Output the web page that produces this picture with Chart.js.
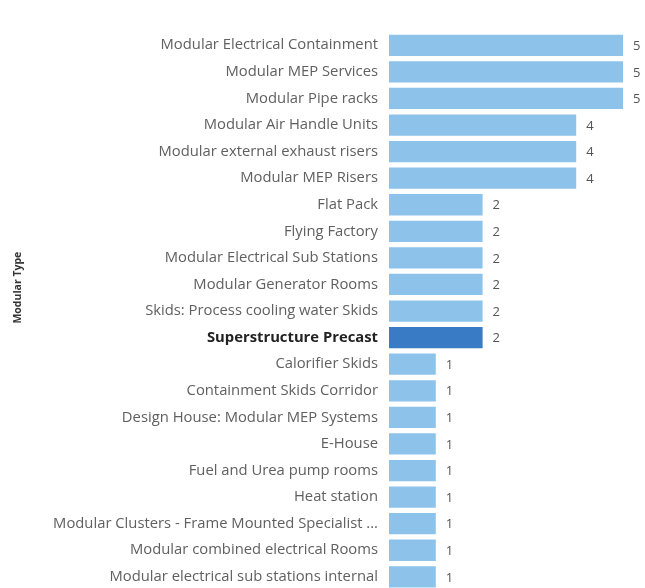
<!DOCTYPE html>
<html>
<head>
<meta charset="utf-8">
<script src="https://cdn.jsdelivr.net/npm/chart.js@4/dist/chart.umd.min.js"></script>
<style>
html,body{margin:0;padding:0;background:#ffffff;overflow:hidden;}
#wrap{position:relative;width:645px;height:610px;}
</style>
</head>
<body>
<div id="wrap"><canvas id="c" width="645" height="610"></canvas></div>
<script>
const categories = [
  "Modular Electrical Containment",
  "Modular MEP Services",
  "Modular Pipe racks",
  "Modular Air Handle Units",
  "Modular external exhaust risers",
  "Modular MEP Risers",
  "Flat Pack",
  "Flying Factory",
  "Modular Electrical Sub Stations",
  "Modular Generator Rooms",
  "Skids: Process cooling water Skids",
  "Superstructure Precast",
  "Calorifier Skids",
  "Containment Skids Corridor",
  "Design House: Modular MEP Systems",
  "E-House",
  "Fuel and Urea pump rooms",
  "Heat station",
  "Modular Clusters - Frame Mounted Specialist ...",
  "Modular combined electrical Rooms",
  "Modular electrical sub stations internal"
];
const counts = [5,5,5,4,4,4,2,2,2,2,2,2,1,1,1,1,1,1,1,1,1];
const highlighted = "Superstructure Precast";
const axisTitle = "Modular Type";

const FONT = "'Open Sans', 'Noto Sans', sans-serif";
const LIGHT = "#8dc3eb";
const DARK = "#3a7bc6";

const labelPlugin = {
  id: 'valueLabels',
  afterDatasetsDraw(chart) {
    const ctx = chart.ctx;
    const meta = chart.getDatasetMeta(0);
    ctx.save();
    ctx.font = "13px " + FONT;
    ctx.fillStyle = "#555555";
    ctx.textAlign = "left";
    ctx.textBaseline = "middle";
    meta.data.forEach((bar, i) => {
      ctx.fillText(String(counts[i]), bar.x + 10, bar.y + 1);
    });
    ctx.restore();
  }
};

const titlePlugin = {
  id: 'axisTitle',
  afterDraw(chart) {
    const ctx = chart.ctx;
    const a = chart.chartArea;
    ctx.save();
    ctx.translate(18, a.top + (a.bottom - a.top) * 0.458);
    ctx.rotate(-Math.PI / 2);
    ctx.font = "bold 10.5px " + FONT;
    ctx.fillStyle = "#333333";
    ctx.textAlign = "center";
    ctx.textBaseline = "middle";
    ctx.fillText(axisTitle, 0, 0);
    ctx.restore();
  }
};

new Chart(document.getElementById('c'), {
  type: 'bar',
  data: {
    labels: categories,
    datasets: [{
      data: counts,
      backgroundColor: categories.map(c => c === highlighted ? DARK : LIGHT),
      borderWidth: 0,
      barPercentage: 1,
      categoryPercentage: 0.8
    }]
  },
  options: {
    indexAxis: 'y',
    responsive: false,
    animation: false,
    devicePixelRatio: 1,
    layout: { padding: { top: 32, right: 22, bottom: 0, left: 0 } },
    plugins: { legend: { display: false }, tooltip: { enabled: false } },
    scales: {
      x: { display: false, min: 0, max: 5 },
      y: {
        afterFit(scale) { scale.width = 389; },
        grid: { display: false, drawTicks: false },
        border: { display: false },
        ticks: {
          padding: 11,
          autoSkip: false,
          color: (ctx) => categories[ctx.index] === highlighted ? "#222222" : "#606060",
          font: (ctx) => ({ family: FONT, size: 14.8, weight: categories[ctx.index] === highlighted ? 'bold' : 'normal' })
        },
        title: { display: false }
      }
    }
  },
  plugins: [labelPlugin, titlePlugin]
});
</script>
</body>
</html>
